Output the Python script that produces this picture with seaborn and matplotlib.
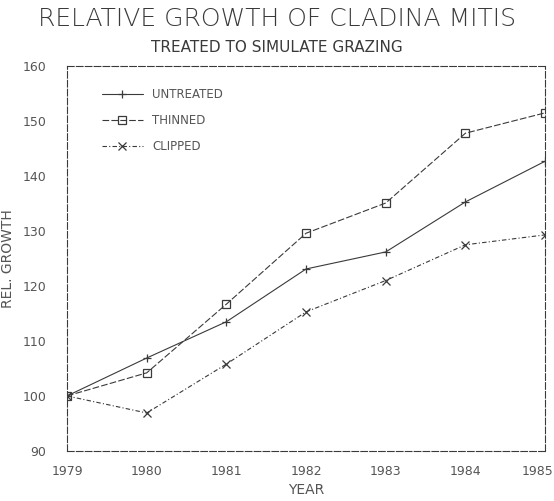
import pandas as pd
import matplotlib
matplotlib.use("Agg")
import matplotlib.pyplot as plt
import matplotlib.transforms as mtransforms
import seaborn as sns


# =========================
# Data
# =========================

YEARS = [1979, 1980, 1981, 1982, 1983, 1984, 1985]
UNTREATED = [100, 106.9, 113.5, 123.1, 126.2, 135.3, 142.7]
THINNED = [100, 104.2, 116.7, 129.6, 135.1, 147.8, 151.5]
CLIPPED = [100, 96.9, 105.8, 115.3, 121.0, 127.5, 129.3]

SERIES_NAMES = ["UNTREATED", "THINNED", "CLIPPED"]
Y_TICKS = [90, 100, 110, 120, 130, 140, 150, 160]

INK = "#3a3a3a"
TEXT = "#555555"

STYLES = {
    "UNTREATED": dict(marker="+", linestyle="-"),
    "THINNED": dict(marker="s", linestyle=(0, (6, 2))),
    "CLIPPED": dict(marker="x", linestyle=(0, (4, 2, 1, 2))),
}


# =========================
# Plot
# =========================

def main():
    sns.set_style("white")
    plt.rcParams["font.family"] = ["DejaVu Sans"]

    fig = plt.figure(figsize=(5.54, 5.01), dpi=100)
    ax = fig.add_axes([0.121, 0.10, 0.863, 0.768])

    for name, values in zip(SERIES_NAMES, [UNTREATED, THINNED, CLIPPED]):
        df = pd.DataFrame({"year": YEARS, "growth": values})
        sns.lineplot(
            data=df, x="year", y="growth", ax=ax, label=name,
            color=INK, linewidth=0.8, markersize=6,
            markerfacecolor="none", markeredgecolor=INK,
            markeredgewidth=0.9, **STYLES[name],
        )

    ax.set_xlim(1979, 1985)
    ax.set_ylim(90, 160)
    ax.set_xticks(YEARS)
    ax.set_yticks(Y_TICKS)
    ax.tick_params(axis="both", colors=TEXT, labelsize=9, length=3, width=0.7)
    ax.tick_params(axis="x", direction="in", pad=10)
    ax.tick_params(axis="y", direction="out", pad=12)

    # last year label sits flush with the right edge
    last = ax.get_xticklabels()[-1]
    last.set_horizontalalignment("right")
    last.set_transform(last.get_transform() + mtransforms.ScaledTranslation(
        0.08, 0, fig.dpi_scale_trans))

    for side, spine in ax.spines.items():
        spine.set_visible(True)
        spine.set_color(INK)
        spine.set_linewidth(0.8)
        spine.set_linestyle((0, (6, 2)))

    ax.set_xlabel("YEAR", fontsize=10, color=TEXT, labelpad=4)
    ax.set_ylabel("REL. GROWTH", fontsize=10, color=TEXT, labelpad=5)

    fig.text(0.5, 0.962, "RELATIVE GROWTH OF CLADINA MITIS",
             ha="center", va="center", fontsize=18, color=INK,
             fontweight="light")
    fig.text(0.5, 0.905, "TREATED TO SIMULATE GRAZING",
             ha="center", va="center", fontsize=11, color=INK)

    ax.legend(loc="upper left", bbox_to_anchor=(0.05, 0.97),
              frameon=False, fontsize=8.5, handlelength=3.5,
              labelspacing=1.1, labelcolor=TEXT)

    fig.savefig("out.png", dpi=100, facecolor="white")
    plt.close(fig)


if __name__ == "__main__":
    main()
